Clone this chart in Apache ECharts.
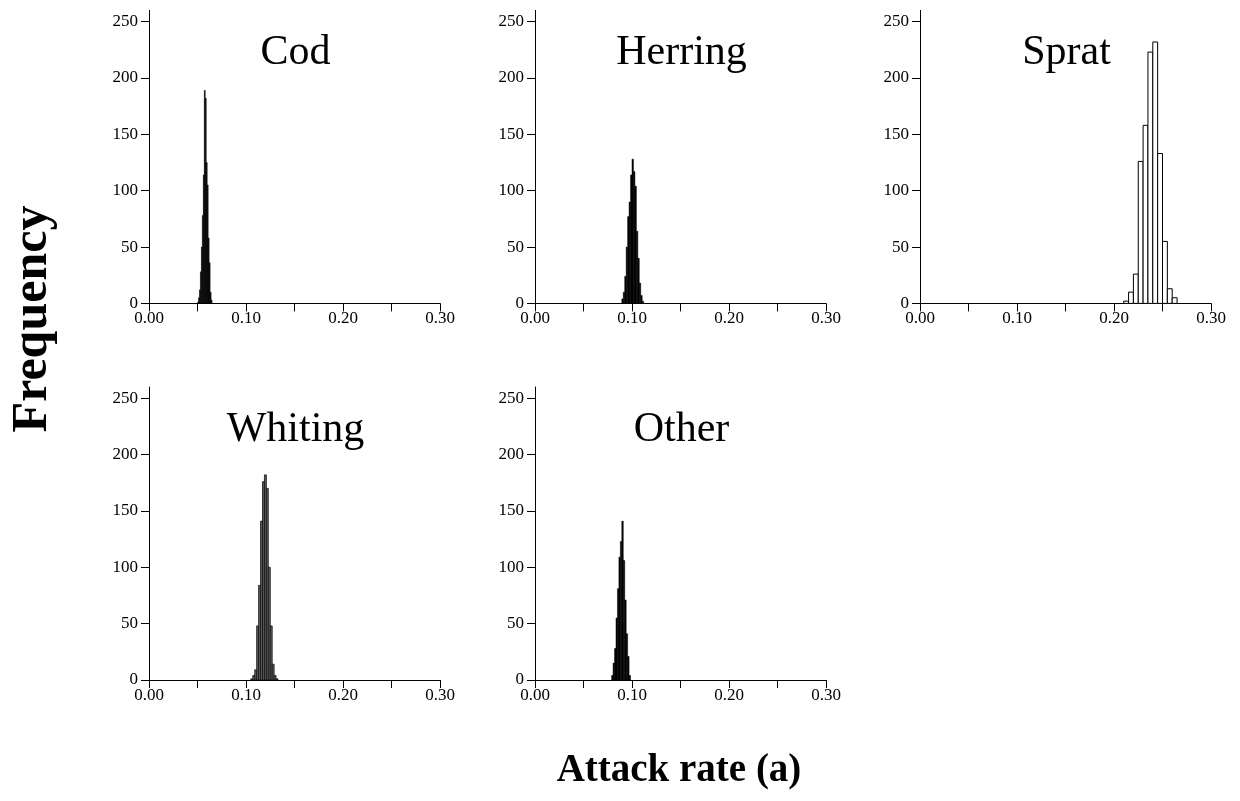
<!DOCTYPE html>
<html>
<head>
<meta charset="utf-8">
<script src="https://cdn.jsdelivr.net/npm/echarts@6/dist/echarts.min.js"></script>
<style>
  html, body { margin: 0; padding: 0; background: #fff; }
  #chart { width: 1240px; height: 801px; }
</style>
</head>
<body>
<div id="chart"></div>
<script>
// Posterior attack-rate histograms for each prey group.
// Each histogram: first bin edge, bin width and counts per bin.
const codStart = 0.050, codBin = 0.001;
const codCounts = [1, 5, 12, 28, 50, 78, 114, 189, 182, 125, 105, 58, 36, 10, 3];

const herringStart = 0.0895, herringBin = 0.0015;
const herringCounts = [4, 10, 24, 50, 77, 90, 114, 128, 117, 104, 64, 40, 18, 7, 2];

const spratStart = 0.210, spratBin = 0.005;
const spratCounts = [2, 10, 26, 126, 158, 223, 232, 133, 55, 13, 5];

const whitingStart = 0.105, whitingBin = 0.002;
const whitingCounts = [1, 4, 9, 48, 84, 141, 176, 182, 170, 100, 48, 14, 4, 1];

const otherStart = 0.079, otherBin = 0.0015;
const otherCounts = [4, 15, 28, 55, 81, 109, 123, 141, 106, 71, 41, 21, 4];

const panelNames = ['Cod', 'Herring', 'Sprat', 'Whiting', 'Other'];
const xTickValues = [0, 0.05, 0.10, 0.15, 0.20, 0.25, 0.30];
const xLabelValues = [0, 0.10, 0.20, 0.30];
const yTickValues = [0, 50, 100, 150, 200, 250];

const serif = '"Liberation Serif", "Times New Roman", serif';

const panels = [
  { name: 'Cod',     start: codStart,     bin: codBin,     counts: codCounts,     fill: '#000', stroke: '#000', lw: 0.5, left: 149, top: 10.4 },
  { name: 'Herring', start: herringStart, bin: herringBin, counts: herringCounts, fill: '#000', stroke: '#000', lw: 0.5, left: 535, top: 10.4 },
  { name: 'Sprat',   start: spratStart,   bin: spratBin,   counts: spratCounts,   fill: '#fff', stroke: '#000', lw: 1,   left: 920, top: 10.4 },
  { name: 'Whiting', start: whitingStart, bin: whitingBin, counts: whitingCounts, fill: '#5e5e5e', stroke: '#111', lw: 0.8, left: 149, top: 387 },
  { name: 'Other',   start: otherStart,   bin: otherBin,   counts: otherCounts,   fill: '#000', stroke: '#000', lw: 0.5, left: 535, top: 387 }
];

const gridW = 291, gridH = 293;

function binsOf(p) {
  return p.counts.map((c, i) => [p.start + i * p.bin, p.start + (i + 1) * p.bin, c]);
}

function makeRender(p) {
  return function (params, api) {
    const x0 = api.value(0), x1 = api.value(1), c = api.value(2);
    const a = api.coord([x0, c]);
    const b = api.coord([x1, 0]);
    return {
      type: 'rect',
      shape: { x: a[0], y: a[1], width: b[0] - a[0], height: b[1] - a[1] },
      style: { fill: p.fill, stroke: p.stroke, lineWidth: p.lw }
    };
  };
}

const grids = [], xAxes = [], yAxes = [], series = [], graphics = [];

panels.forEach((p, i) => {
  grids.push({ left: p.left, top: p.top, width: gridW, height: gridH });
  xAxes.push({
    gridIndex: i, type: 'value', min: 0, max: 0.30, interval: 0.05,
    axisLine: { show: true, onZero: false, lineStyle: { color: '#000', width: 1 } },
    axisTick: { show: true, length: 8, customValues: xTickValues, lineStyle: { color: '#000', width: 1 } },
    axisLabel: {
      customValues: xLabelValues, margin: 7,
      formatter: v => v.toFixed(2),
      color: '#000', fontFamily: serif, fontSize: 17
    },
    splitLine: { show: false }
  });
  yAxes.push({
    gridIndex: i, type: 'value', min: 0, max: 260, interval: 50,
    axisLine: { show: true, onZero: false, lineStyle: { color: '#000', width: 1 } },
    axisTick: { show: true, length: 8, customValues: yTickValues, lineStyle: { color: '#000', width: 1 } },
    axisLabel: {
      customValues: yTickValues, margin: 11,
      color: '#000', fontFamily: serif, fontSize: 17
    },
    splitLine: { show: false }
  });
  series.push({
    type: 'custom', name: p.name,
    xAxisIndex: i, yAxisIndex: i,
    renderItem: makeRender(p),
    encode: { x: [0, 1], y: 2 },
    data: binsOf(p),
    silent: true, animation: false
  });
  graphics.push({
    type: 'text',
    x: p.left + gridW / 2 + 1,
    y: p.top + 43,
    style: {
      text: panelNames[i], fill: '#000',
      font: '42px ' + serif,
      textAlign: 'center', textVerticalAlign: 'middle',
      align: 'center', verticalAlign: 'middle'
    }
  });
});

graphics.push({
  type: 'text', x: 33, y: 319, rotation: Math.PI / 2,
  style: {
    text: 'Frequency', fill: '#000',
    font: 'bold 50px ' + serif,
    textAlign: 'center', textVerticalAlign: 'middle',
    align: 'center', verticalAlign: 'middle'
  }
});
graphics.push({
  type: 'text', x: 679, y: 771,
  style: {
    text: 'Attack rate (a)', fill: '#000',
    font: 'bold 39px ' + serif,
    textAlign: 'center', textVerticalAlign: 'middle',
    align: 'center', verticalAlign: 'middle'
  }
});

const chart = echarts.init(document.getElementById('chart'), null, { renderer: 'canvas' });
chart.setOption({
  backgroundColor: '#fff',
  animation: false,
  grid: grids,
  xAxis: xAxes,
  yAxis: yAxes,
  series: series,
  graphic: graphics
});
</script>
</body>
</html>
